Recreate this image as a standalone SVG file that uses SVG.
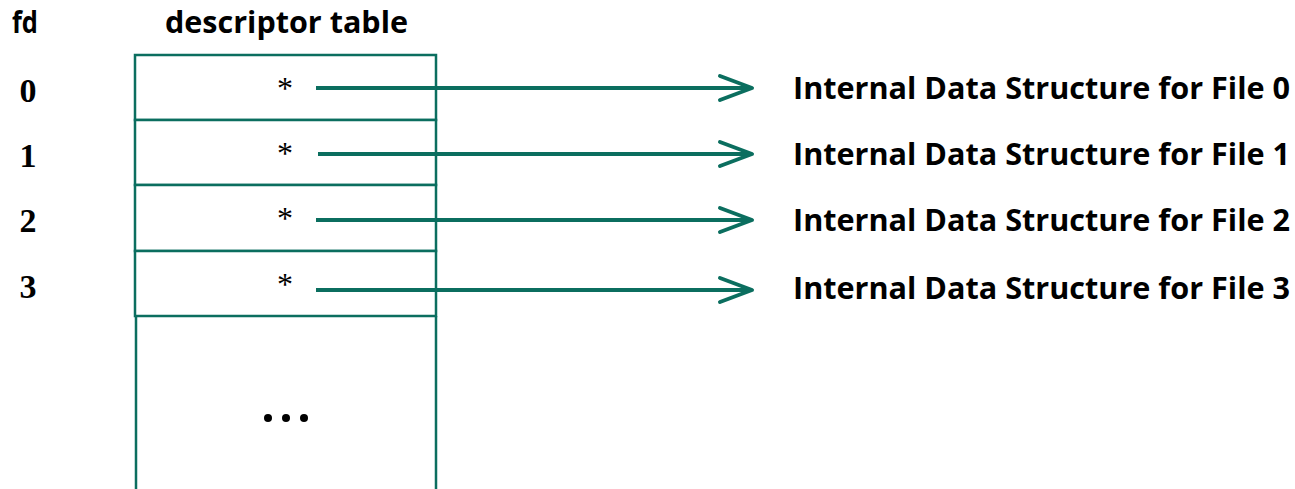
<svg xmlns="http://www.w3.org/2000/svg" width="1295" height="489" viewBox="0 0 1295 489">
  <style>
    .cell { fill: #ffffff; stroke: #0b6e5f; stroke-width: 2.5; }
    .hdr { font-family: "Open Sans", "Liberation Sans", sans-serif; font-weight: bold; font-size: 30px; fill: #000; }
    .idx { font-family: "Liberation Serif", serif; font-weight: bold; font-size: 34px; fill: #000; text-anchor: middle; }
    .ptr { font-family: "Liberation Serif", serif; font-size: 32px; fill: #000; text-anchor: middle; }
    .lbl { font-family: "Open Sans", "Liberation Sans", sans-serif; font-weight: bold; font-size: 31px; fill: #000; }
    .link { stroke: #0b6e5f; stroke-width: 4; fill: none; marker-end: url(#chev); }
  </style>
  <defs>
    <marker id="chev" markerUnits="userSpaceOnUse" markerWidth="40" markerHeight="30" refX="36" refY="14" orient="auto" viewBox="0 0 40 28">
      <path d="M4 2 L36 14 L4 26" fill="none" stroke="#0b6e5f" stroke-width="4" stroke-linecap="round" stroke-linejoin="round"/>
    </marker>
  </defs>

  <text class="hdr" x="12" y="33" textLength="26" lengthAdjust="spacingAndGlyphs">fd</text>
  <text class="hdr" x="165" y="33" textLength="243" lengthAdjust="spacingAndGlyphs">descriptor table</text>

  <!-- descriptor table cells -->
  <g id="row0">
    <rect class="cell" x="135" y="55" width="301" height="65"/>
    <text class="idx" x="28" y="102">0</text>
    <text class="ptr" x="285" y="99">*</text>
  </g>
  <g id="row1">
    <rect class="cell" x="135" y="120" width="301" height="65"/>
    <text class="idx" x="28" y="167">1</text>
    <text class="ptr" x="285" y="164">*</text>
  </g>
  <g id="row2">
    <rect class="cell" x="135" y="185" width="301" height="66"/>
    <text class="idx" x="28" y="232">2</text>
    <text class="ptr" x="285" y="229">*</text>
  </g>
  <g id="row3">
    <rect class="cell" x="135" y="251" width="301" height="65"/>
    <text class="idx" x="28" y="298">3</text>
    <text class="ptr" x="285" y="295">*</text>
  </g>
  <g id="rest">
    <path class="cell" d="M136 316 V489 M436 316 V489" fill="none"/>
    <circle cx="268" cy="418" r="4" fill="#000"/>
    <circle cx="286" cy="418" r="4" fill="#000"/>
    <circle cx="304" cy="418" r="4" fill="#000"/>
  </g>

  <!-- file structures -->
  <g id="file0"><text class="lbl" x="793" y="99" textLength="497" lengthAdjust="spacingAndGlyphs">Internal Data Structure for File 0</text></g>
  <g id="file1"><text class="lbl" x="793" y="165" textLength="497" lengthAdjust="spacingAndGlyphs">Internal Data Structure for File 1</text></g>
  <g id="file2"><text class="lbl" x="793" y="231" textLength="497" lengthAdjust="spacingAndGlyphs">Internal Data Structure for File 2</text></g>
  <g id="file3"><text class="lbl" x="793" y="299" textLength="497" lengthAdjust="spacingAndGlyphs">Internal Data Structure for File 3</text></g>

  <!-- pointer arrows -->
  <g id="connectors">
    <line class="link" x1="316" y1="88" x2="752" y2="88"/>
    <line class="link" x1="318" y1="154" x2="752" y2="154"/>
    <line class="link" x1="316" y1="220" x2="752" y2="220"/>
    <line class="link" x1="316" y1="290" x2="752" y2="290"/>
  </g>
</svg>
